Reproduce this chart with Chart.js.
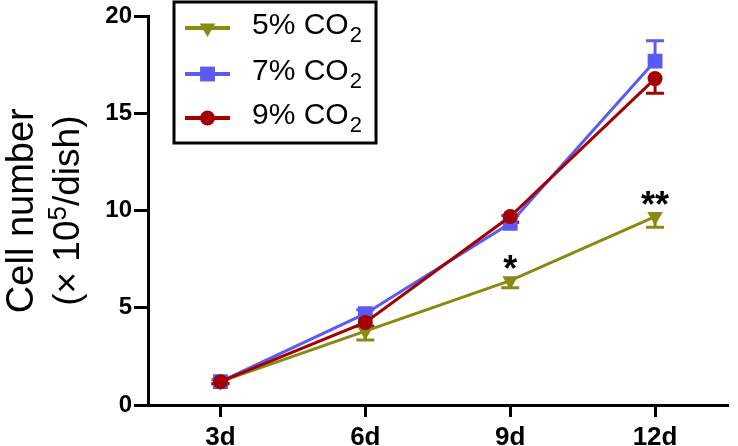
<!DOCTYPE html>
<html>
<head>
<meta charset="utf-8">
<title>Cell number by CO2</title>
<script src="https://cdn.jsdelivr.net/npm/chart.js@4.4.1/dist/chart.umd.min.js"></script>
<style>
  html, body { margin: 0; padding: 0; background: #fff; }
  #wrap { width: 738px; height: 446px; }
</style>
</head>
<body>
<div id="wrap"><canvas id="growthChart" width="738" height="446"></canvas></div>
<script>
// data
const days = ['3d', '6d', '9d', '12d'];
const co2Five = [1.2, 3.8, 6.4, 9.7];
const co2FiveErr = [0.1, 0.45, 0.37, 0.55];
const co2Seven = [1.2, 4.7, 9.35, 17.7];
const co2SevenErr = [0.1, 0.2, 0.4, 1.05];
const co2Nine = [1.2, 4.25, 9.7, 16.8];
const co2NineErr = [0.1, 0.2, 0.3, 0.75];
const fiveSignif = ['', '', '*', '**'];
const yTitleLines = ['Cell number', '(× 10', '5', '/dish)'];

const OLIVE = '#8a8a12';
const BLUE = '#5a5af5';
const RED = '#a30000';
const FONT = '"Liberation Sans", Arial, sans-serif';

// error bars, drawn under the lines and markers (one-sided like in Prism)
const errorBars = {
    id: 'errorBars',
    beforeDatasetsDraw(chart) {
        const ctx = chart.ctx;
        const yScale = chart.scales.y;
        chart.data.datasets.forEach((ds, i) => {
            const meta = chart.getDatasetMeta(i);
            ctx.save();
            ctx.strokeStyle = ds.borderColor;
            ctx.lineWidth = 3;
            meta.data.forEach((pt, j) => {
                const end = yScale.getPixelForValue(ds.data[j] + ds.errDir * ds.err[j]);
                ctx.beginPath();
                ctx.moveTo(pt.x, pt.y);
                ctx.lineTo(pt.x, end);
                ctx.moveTo(pt.x - 9, end);
                ctx.lineTo(pt.x + 9, end);
                ctx.stroke();
            });
            ctx.restore();
        });
    }
};

// asterisks above the 5% points
const signifMarks = {
    id: 'signifMarks',
    afterDatasetsDraw(chart) {
        const ctx = chart.ctx;
        const meta = chart.getDatasetMeta(0);
        ctx.save();
        ctx.fillStyle = '#000';
        ctx.font = 'bold 36px ' + FONT;
        ctx.textAlign = 'center';
        ctx.textBaseline = 'alphabetic';
        meta.data.forEach((pt, j) => {
            const txt = fiveSignif[j];
            if (!txt) return;
            const m = ctx.measureText(txt);
            const centerY = pt.y - 19;
            ctx.fillText(txt, pt.x, centerY + (m.actualBoundingBoxAscent - m.actualBoundingBoxDescent) / 2);
        });
        ctx.restore();
    }
};

// boxed legend with subscript 2
const boxLegend = {
    id: 'boxLegend',
    afterDraw(chart) {
        const ctx = chart.ctx;
        const rows = [28, 74, 118];
        ctx.save();
        ctx.fillStyle = '#fff';
        ctx.fillRect(174, 2, 202, 141);
        ctx.strokeStyle = '#000';
        ctx.lineWidth = 3;
        ctx.strokeRect(174, 2, 202, 141);
        chart.data.datasets.forEach((ds, i) => {
            const y = rows[i];
            ctx.strokeStyle = ds.borderColor;
            ctx.fillStyle = ds.borderColor;
            ctx.lineWidth = 4;
            ctx.beginPath();
            ctx.moveTo(185, y);
            ctx.lineTo(230, y);
            ctx.stroke();
            Chart.helpers.drawPoint(ctx, {
                pointStyle: ds.pointStyle,
                radius: ds.pointRadius,
                rotation: ds.pointRotation || 0,
                borderWidth: 0
            }, 207.5, y);

            const parts = ds.label.split('₂');
            ctx.fillStyle = '#000';
            ctx.textBaseline = 'alphabetic';
            ctx.textAlign = 'left';
            ctx.font = '30px ' + FONT;
            ctx.fillText(parts[0], 252, y + 6);
            const w = ctx.measureText(parts[0]).width;
            ctx.font = '22px ' + FONT;
            ctx.fillText('2', 252 + w + 1, y + 14);
        });
        ctx.restore();
    }
};

// rotated y axis title, two lines, superscript 5
const yTitle = {
    id: 'yTitle',
    afterDraw(chart) {
        const ctx = chart.ctx;
        const area = chart.chartArea;
        const cy = (area.top + area.bottom) / 2;
        ctx.save();
        ctx.fillStyle = '#000';
        ctx.textBaseline = 'alphabetic';
        ctx.textAlign = 'left';

        ctx.save();
        ctx.translate(33, cy);
        ctx.rotate(-Math.PI / 2);
        ctx.font = '38px ' + FONT;
        const w1 = ctx.measureText(yTitleLines[0]).width;
        ctx.fillText(yTitleLines[0], -w1 / 2, 0);
        ctx.restore();

        ctx.save();
        ctx.translate(79, cy);
        ctx.rotate(-Math.PI / 2);
        ctx.font = '37px ' + FONT;
        const a = ctx.measureText(yTitleLines[1]).width;
        const c = ctx.measureText(yTitleLines[3]).width;
        ctx.font = '26px ' + FONT;
        const b = ctx.measureText(yTitleLines[2]).width;
        let x = -(a + b + c) / 2;
        ctx.font = '37px ' + FONT;
        ctx.fillText(yTitleLines[1], x, 0);
        x += a;
        ctx.font = '26px ' + FONT;
        ctx.fillText(yTitleLines[2], x, -13);
        x += b;
        ctx.font = '37px ' + FONT;
        ctx.fillText(yTitleLines[3], x, 0);
        ctx.restore();

        ctx.restore();
    }
};

const ctx = document.getElementById('growthChart').getContext('2d');
new Chart(ctx, {
    type: 'line',
    data: {
        labels: days,
        datasets: [
            {
                label: '5% CO₂',
                data: co2Five,
                err: co2FiveErr,
                errDir: -1,
                borderColor: OLIVE,
                backgroundColor: OLIVE,
                pointBackgroundColor: OLIVE,
                pointStyle: 'triangle',
                pointRotation: 180,
                pointRadius: 9,
                order: 2
            },
            {
                label: '7% CO₂',
                data: co2Seven,
                err: co2SevenErr,
                errDir: 1,
                borderColor: BLUE,
                backgroundColor: BLUE,
                pointBackgroundColor: BLUE,
                pointStyle: 'rect',
                pointRadius: 10.5,
                order: 1
            },
            {
                label: '9% CO₂',
                data: co2Nine,
                err: co2NineErr,
                errDir: -1,
                borderColor: RED,
                backgroundColor: RED,
                pointBackgroundColor: RED,
                pointStyle: 'circle',
                pointRadius: 7.5,
                order: 0
            }
        ]
    },
    options: {
        responsive: false,
        animation: false,
        devicePixelRatio: 1,
        layout: { padding: { top: 15, right: 1, left: 0, bottom: 0 } },
        elements: {
            line: { borderWidth: 3, tension: 0, fill: false },
            point: { borderWidth: 0, hoverRadius: 8 }
        },
        plugins: {
            legend: { display: false },
            tooltip: { enabled: false }
        },
        scales: {
            x: {
                type: 'category',
                offset: true,
                grid: { drawOnChartArea: false, offset: false, tickLength: 12, color: '#000', lineWidth: 3 },
                border: { display: true, color: '#000', width: 3 },
                ticks: { color: '#000', padding: 5, font: { family: FONT, size: 26, weight: 'bold' } },
                afterFit: s => { s.height = 41; }
            },
            y: {
                min: 0,
                max: 20,
                ticks: { stepSize: 5, color: '#000', padding: 2, font: { family: FONT, size: 24, weight: 'bold' } },
                grid: { drawOnChartArea: false, tickLength: 14, color: '#000', lineWidth: 3 },
                border: { display: true, color: '#000', width: 3 },
                afterFit: s => { s.width = 148; }
            }
        }
    },
    plugins: [errorBars, signifMarks, boxLegend, yTitle]
});
</script>
</body>
</html>
